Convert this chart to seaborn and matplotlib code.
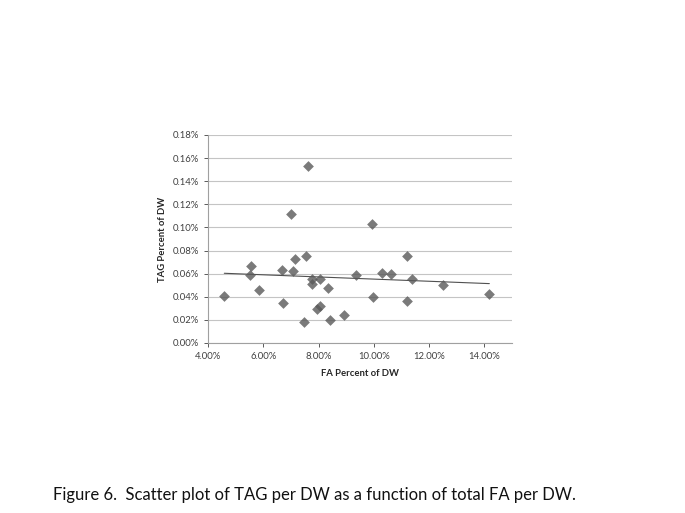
import numpy as np
import pandas as pd
import matplotlib.pyplot as plt
import seaborn as sns
from matplotlib.ticker import FuncFormatter

# FA percent of DW (x) and TAG percent of DW (y), both in %
fa_pct = [4.59, 5.54, 5.53, 5.86, 6.67, 6.73, 7.07, 7.13, 7.53, 7.47,
          7.76, 7.75, 8.05, 7.96, 8.05, 8.33, 8.41, 8.93, 9.34, 7.62,
          7.00, 9.95, 9.98, 10.29, 10.63, 11.20, 11.19, 11.38, 12.52, 14.18]
tag_pct = [0.041, 0.0666, 0.059, 0.046, 0.063, 0.035, 0.0626, 0.0727, 0.0757, 0.018,
           0.0557, 0.051, 0.055, 0.029, 0.032, 0.048, 0.020, 0.024, 0.059, 0.153,
           0.112, 0.103, 0.040, 0.0605, 0.060, 0.0757, 0.036, 0.055, 0.050, 0.0426]

df = pd.DataFrame({"fa": fa_pct, "tag": tag_pct})

sns.set_style("white")
plt.rcParams['font.family'] = ['Lato', 'DejaVu Sans']

fig = plt.figure(figsize=(6.85, 5.13), dpi=100)
ax = fig.add_axes([208 / 685, 1 - 343 / 513, 304 / 685, 208 / 513])

sns.regplot(data=df, x="fa", y="tag", ax=ax, ci=None,
            marker="D", scatter_kws=dict(s=30, color="#595959", linewidths=0, zorder=3),
            line_kws=dict(color="#505050", lw=0.8, zorder=2))

ax.set_xlim(4, 15)
ax.set_ylim(0, 0.18)
ax.set_xticks(np.arange(4, 15, 2))
ax.set_yticks(np.arange(0, 0.181, 0.02))
ax.xaxis.set_major_formatter(FuncFormatter(lambda v, p: f"{v:.2f}%"))
ax.yaxis.set_major_formatter(FuncFormatter(lambda v, p: f"{v:.2f}%"))
ax.yaxis.grid(True, color="#c4c4c4", lw=0.8)
ax.set_axisbelow(True)
for s in ["top", "right"]:
    ax.spines[s].set_visible(False)
for s in ["left", "bottom"]:
    ax.spines[s].set_color("#a0a0a0")
    ax.spines[s].set_linewidth(0.8)
ax.tick_params(axis="both", labelsize=6.8, colors="#404040", length=3, width=0.6,
               direction="out", left=True, bottom=True)
ax.set_xlabel("FA Percent of DW", fontsize=6.8, fontweight="bold", labelpad=6)
ax.set_ylabel("TAG Percent of DW", fontsize=6.8, fontweight="bold", labelpad=4)

fig.text(53 / 685, 1 - 495 / 513, "Figure 6.  Scatter plot of TAG per DW as a function of total FA per DW.",
         fontsize=12, va="center", ha="left", color="#111111")

fig.savefig("out.png", dpi=100)
